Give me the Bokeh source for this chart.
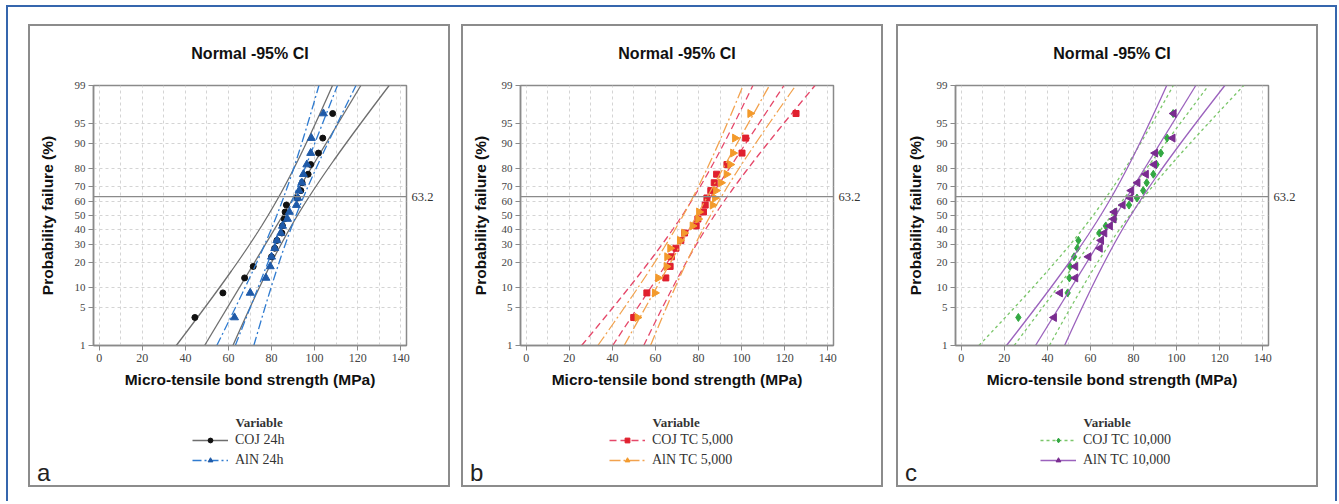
from statistics import NormalDist
import math
from bokeh.plotting import figure
from bokeh.models import (Span, Legend, LegendItem, FixedTicker, Range1d, LinearAxis, Label)
from bokeh.layouts import row, column
from bokeh.embed import file_html
from bokeh.resources import INLINE

# ---------------- data ----------------
PROB_TICKS = [1, 5, 10, 20, 30, 40, 50, 60, 70, 80, 90, 95, 99]
X_TICKS = [0, 20, 40, 60, 80, 100, 120, 140]
X_GRID = [0, 10, 20, 30, 40, 50, 60, 70, 80, 90, 100, 110, 120, 130, 140]
REF_PCT = 63.2

# plotting positions (% failure) of the 20 ranked specimens
RANK_PCT = [3.4, 8.3, 13.2, 18.1, 23.0, 27.9, 32.8, 37.7, 42.6, 47.5,
            52.5, 57.4, 62.3, 67.2, 72.1, 77.0, 81.9, 86.8, 91.7, 96.6]

coj_24h = [44.4, 57.4, 67.5, 71.5, 80.0, 81.5, 82.5, 84.8, 85.1, 85.9,
           86.3, 86.9, 92.0, 93.6, 94.2, 97.0, 98.2, 101.8, 103.8, 108.4]
aln_24h = [62.8, 70.1, 77.4, 79.4, 80.0, 81.5, 82.5, 84.3, 85.1, 87.4,
           88.3, 91.6, 92.2, 92.8, 94.1, 94.8, 96.4, 98.2, 98.5, 104.1]
coj_tc5k = [49.9, 56.0, 64.8, 66.8, 67.4, 69.5, 71.8, 73.5, 78.9, 79.7,
            82.3, 83.1, 83.9, 85.7, 87.3, 88.4, 93.2, 100.2, 101.9, 125.3]
aln_tc5k = [51.6, 59.7, 61.2, 65.1, 65.4, 66.8, 71.3, 73.3, 77.2, 79.8,
            80.2, 86.5, 87.6, 88.1, 90.4, 93.0, 94.7, 96.0, 96.9, 104.0]
coj_tc10k = [26.5, 49.4, 50.2, 50.5, 52.4, 53.9, 54.4, 64.1, 67.1, 71.1,
             71.5, 77.9, 81.6, 84.5, 86.1, 89.2, 90.7, 92.7, 95.6, 98.4]
aln_tc10k = [43.1, 45.9, 53.0, 53.0, 59.1, 64.4, 65.0, 66.5, 69.1, 70.8,
             71.1, 75.0, 78.5, 79.0, 81.9, 85.8, 89.6, 90.1, 98.2, 98.7]

# fitted normal parameters (mean, st.dev)
fit_coj_24h = (85.2, 15.6)
fit_aln_24h = (86.9, 10.2)
fit_coj_tc5k = (79.9, 17.1)
fit_aln_tc5k = (79.2, 14.5)
fit_coj_tc10k = (69.7, 19.4)
fit_aln_tc10k = (71.7, 16.0)
N_SPEC = 20

labels_a = ["COJ 24h", "AlN 24h"]
labels_b = ["COJ TC 5,000", "AlN TC 5,000"]
labels_c = ["COJ TC 10,000", "AlN TC 10,000"]
LEGEND_TITLE = "Variable"
PANEL_TITLE = "Normal -95% CI"

# ---------------- helpers ----------------
ND = NormalDist()


def zq(pct):
    return ND.inv_cdf(pct / 100.0)


Z_LO, Z_HI = zq(PROB_TICKS[0]), zq(PROB_TICKS[-1])
ZC = 1.959964

SANS = "Liberation Sans"
SERIF = "Liberation Serif"
PW = 422
HEAD_H = 49          # title strip of a panel
TOP_H = 323          # plot part of a panel
BOT_H = 91           # legend part of a panel
FRAME_W, FRAME_H = 313, 260
TOP_B = 12


def add_series(p, xs, fit, style):
    mu, sd = fit
    zs = [Z_LO + (Z_HI - Z_LO) * i / 80 for i in range(81)]
    lo = [mu + z * sd - ZC * sd * math.sqrt((1 + z * z / 2) / N_SPEC) for z in zs]
    hi = [mu + z * sd + ZC * sd * math.sqrt((1 + z * z / 2) / N_SPEC) for z in zs]
    kw = dict(line_color=style["lc"], line_width=1.3, line_dash=style["dash"])
    p.line(lo, zs, **kw)
    p.line(hi, zs, **kw)
    p.line([mu + Z_LO * sd, mu + Z_HI * sd], [Z_LO, Z_HI], **kw)
    p.scatter(xs, [zq(v) for v in RANK_PCT], marker=style["marker"],
              size=style["size"], fill_color=style["pc"], line_color=style["pc"],
              angle=style.get("angle", 0.0))


def blank(height):
    q = figure(width=PW, height=height, output_backend="svg", toolbar_location=None,
               x_range=Range1d(0, PW), y_range=Range1d(0, height),
               x_axis_type=None, y_axis_type=None, min_border=0, frame_align=False)
    q.grid.visible = False
    q.outline_line_color = None
    q.background_fill_alpha = 0
    q.border_fill_alpha = 0
    return q


def head_part(left):
    h = blank(HEAD_H)
    h.add_layout(Label(x=left + FRAME_W / 2, y=HEAD_H - 29, text=PANEL_TITLE,
                       text_font=SANS, text_font_style="bold", text_font_size="16px",
                       text_color="#111111", text_align="center",
                       text_baseline="middle"))
    return h


def plot_part(series, left, ystand):
    p = figure(width=PW, height=TOP_H, output_backend="svg", toolbar_location=None,
               x_range=Range1d(-2.7, 142.7), y_range=Range1d(Z_LO, Z_HI),
               min_border_left=left, min_border_right=PW - left - FRAME_W,
               min_border_top=TOP_B, min_border_bottom=TOP_H - TOP_B - FRAME_H,
               frame_align=False)
    p.background_fill_color = "white"
    p.border_fill_alpha = 0
    p.outline_line_color = "#8a8a8a"
    p.outline_line_width = 1.5

    zt = [zq(t) for t in PROB_TICKS]
    p.yaxis.ticker = FixedTicker(ticks=zt, minor_ticks=[])
    p.yaxis.major_label_overrides = {z: str(t) for z, t in zip(zt, PROB_TICKS)}
    p.xaxis.ticker = FixedTicker(ticks=X_TICKS, minor_ticks=[])
    for ax in (p.xaxis[0], p.yaxis[0]):
        ax.axis_line_color = "#8a8a8a"
        ax.axis_line_width = 1.5
        ax.major_tick_line_color = "#8a8a8a"
        ax.major_tick_out = 5
        ax.major_tick_in = 0
        ax.major_label_text_font = SERIF
        ax.major_label_text_color = "#444444"
        ax.axis_label_text_font = SANS
        ax.axis_label_text_font_style = "bold"
        ax.axis_label_text_font_size = "15.5px"
        ax.axis_label_text_color = "#111111"
    p.xaxis.major_label_text_font_size = "12px"
    p.yaxis.major_label_text_font_size = "11px"
    p.xaxis.major_label_standoff = 3
    p.yaxis.major_label_standoff = 3
    p.xaxis.axis_label = "Micro-tensile bond strength (MPa)"
    p.yaxis.axis_label = "Probability failure (%)"
    p.xaxis.axis_label_standoff = 6
    p.yaxis.axis_label_standoff = ystand

    p.xgrid.ticker = FixedTicker(ticks=X_GRID, minor_ticks=[])
    p.ygrid.ticker = FixedTicker(ticks=zt, minor_ticks=[])
    for g in (p.xgrid[0], p.ygrid[0]):
        g.grid_line_color = "#d4d4d4"
        g.grid_line_dash = "3 3"
        g.grid_line_width = 1

    zr = zq(REF_PCT)
    p.add_layout(Span(location=zr, dimension="width",
                      line_color="#8a8a8a", line_width=1.4))
    rax = LinearAxis(ticker=FixedTicker(ticks=[zr], minor_ticks=[]),
                     major_label_overrides={zr: str(REF_PCT)},
                     axis_line_alpha=0, major_tick_line_alpha=0,
                     major_tick_out=0, major_tick_in=0, major_label_standoff=5,
                     major_label_text_font=SERIF, major_label_text_font_size="12.5px",
                     major_label_text_color="#333333")
    p.add_layout(rax, "right")

    for name, xs, fit, style in series:
        add_series(p, xs, fit, style)
    return p


def legend_part(letter, series, legend_x):
    q = blank(BOT_H)
    # the series are attached to an off-screen range: they only lend their
    # styles to the legend samples
    q.extra_x_ranges = {"off": Range1d(-1000, -999)}
    items = []
    for name, xs, fit, style in series:
        ys = [zq(v) for v in RANK_PCT]
        ln = q.line(xs, ys, x_range_name="off", line_color=style["lc"],
                    line_width=1.3, line_dash=style["dash"])
        sc = q.scatter(xs, ys, x_range_name="off", marker=style["marker"],
                       size=style["size"], fill_color=style["pc"],
                       line_color=style["pc"], angle=style.get("angle", 0.0))
        items.append(LegendItem(label=name, renderers=[ln, sc]))
    q.add_layout(Legend(items=items, location=(legend_x, 17), padding=0, spacing=0,
                        margin=0, label_height=20, glyph_height=12, glyph_width=36,
                        label_standoff=7, border_line_alpha=0, background_fill_alpha=0,
                        label_text_font=SERIF, label_text_font_size="14px",
                        label_text_color="#333333"))
    q.add_layout(Label(x=legend_x + 43, y=65, text=LEGEND_TITLE, text_font=SERIF,
                       text_font_style="bold", text_font_size="13px",
                       text_color="#333333", text_baseline="middle"))
    q.add_layout(Label(x=8.5, y=15, text=letter, text_font=SANS, text_font_size="24px",
                       text_color="#222222", text_baseline="middle"))
    return q


def panel(letter, series, left, ystand, legend_x, margin):
    head = head_part(left)
    top = plot_part(series, left, ystand)
    bot = legend_part(letter, series, legend_x)
    return column(head, top, bot, margin=margin, spacing=0,
                  styles={"outline": "2px solid #8c8c8c", "outline-offset": "-2px"})


st_black = dict(lc="#6e6e6e", dash="solid", marker="circle", size=6, pc="#111111")
st_blue = dict(lc="#2f7bd0", dash="9 3 2 3", marker="triangle", size=8, pc="#1f5aa8")
st_red = dict(lc="#e5486a", dash="7 4", marker="square", size=6, pc="#e0202e")
st_orange = dict(lc="#f2a24e", dash="11 3 2 3", marker="triangle", size=8,
                 pc="#f39a2c", angle=-math.pi / 2)
st_green = dict(lc="#7bc66a", dash="3 3", marker="diamond", size=8, pc="#33a843")
st_purple = dict(lc="#9b62bd", dash="solid", marker="triangle", size=8,
                 pc="#7a2c90", angle=math.pi / 2)

pa = panel("a", [(labels_a[0], coj_24h, fit_coj_24h, st_black),
                 (labels_a[1], aln_24h, fit_aln_24h, st_blue)],
           65, 16, 164, (19, 0, 14, 22))
pb = panel("b", [(labels_b[0], coj_tc5k, fit_coj_tc5k, st_red),
                 (labels_b[1], aln_tc5k, fit_aln_tc5k, st_orange)],
           59, 10, 148, (19, 0, 14, 11))
pc = panel("c", [(labels_c[0], coj_tc10k, fit_coj_tc10k, st_green),
                 (labels_c[1], aln_tc10k, fit_aln_tc10k, st_purple)],
           59, 10, 144, (19, 19, 14, 13))

layout = row(pa, pb, pc, margin=(5, 0, 0, 6), styles={
    "box-shadow": "inset 0 2px 0 #3566ad, inset 2px 0 0 #3566ad, inset -2px 0 0 #3566ad"})

open("out.html", "w").write(file_html(layout, INLINE))
